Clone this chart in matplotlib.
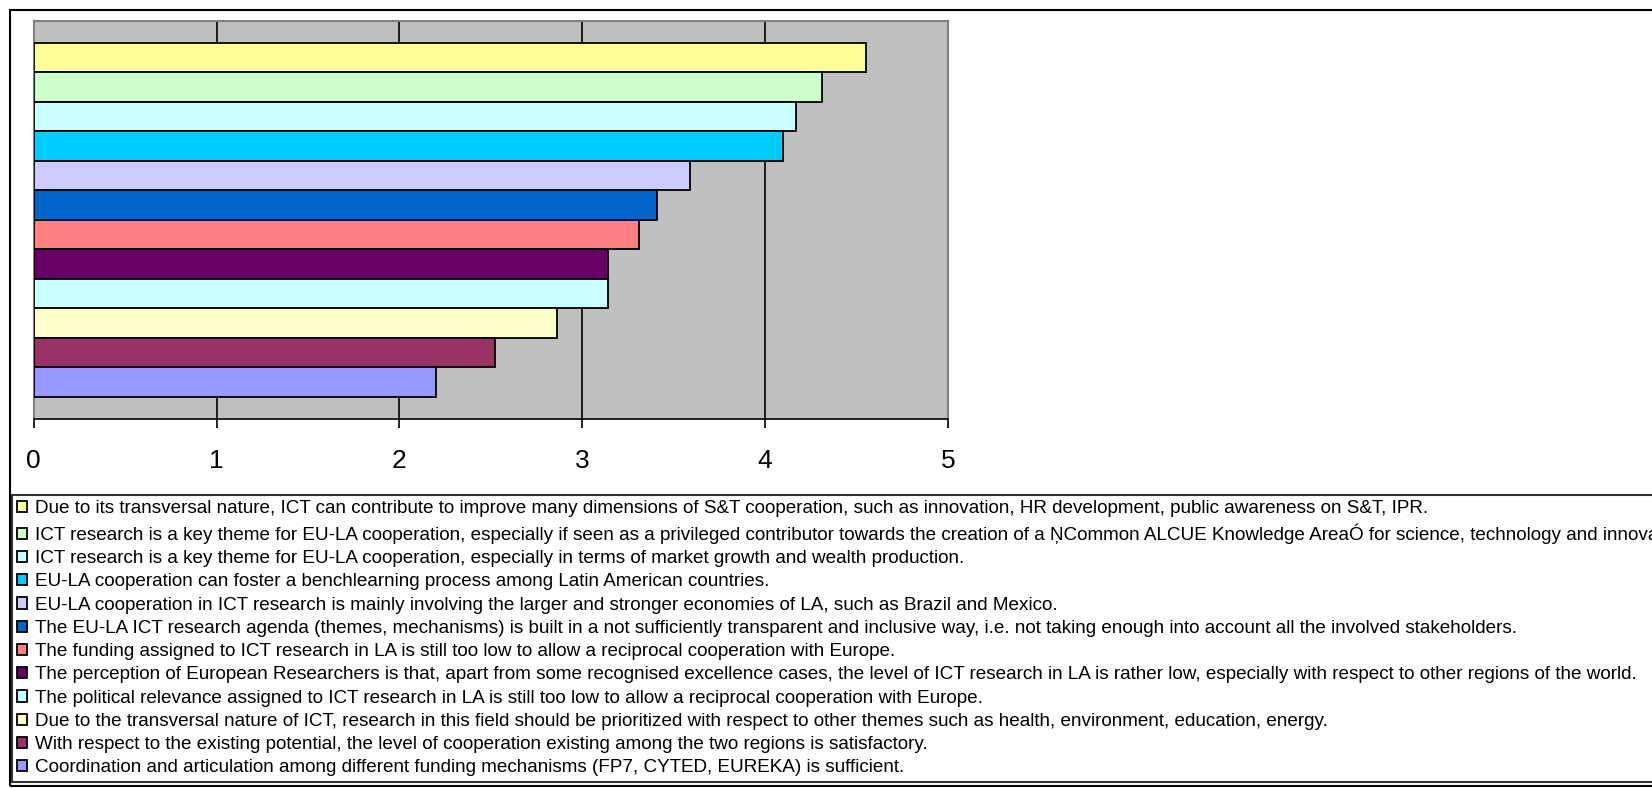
import matplotlib
matplotlib.use("Agg")
import matplotlib.pyplot as plt
from matplotlib.patches import Rectangle

plt.rcParams['font.family'] = ['Liberation Sans', 'DejaVu Sans']

statements = [
    "Due to its transversal nature, ICT can contribute to improve many dimensions of S&T cooperation, such as innovation, HR development, public awareness on S&T, IPR.",
    "ICT research is a key theme for EU-LA cooperation, especially if seen as a privileged contributor towards the creation of a \u0145Common ALCUE Knowledge Area\u00d3 for science, technology and innovation.",
    "ICT research is a key theme for EU-LA cooperation, especially in terms of market growth and wealth production.",
    "EU-LA cooperation can foster a benchlearning process among Latin American countries.",
    "EU-LA cooperation in ICT research is mainly involving the larger and stronger economies of LA, such as Brazil and Mexico.",
    "The EU-LA ICT research agenda (themes, mechanisms) is built in a not sufficiently transparent and inclusive way, i.e. not taking enough into account all the involved stakeholders.",
    "The funding assigned to ICT research in LA is still too low to allow a reciprocal cooperation with Europe.",
    "The perception of European Researchers is that, apart from some recognised excellence cases, the level of ICT research in LA is rather low, especially with respect to other regions of the world.",
    "The political relevance assigned to ICT research in LA is still too low to allow a reciprocal cooperation with Europe.",
    "Due to the transversal nature of ICT, research in this field should be prioritized with respect to other themes such as health, environment, education, energy.",
    "With respect to the existing potential, the level of cooperation existing among the two regions is satisfactory.",
    "Coordination and articulation among different funding mechanisms (FP7, CYTED, EUREKA) is sufficient.",
]
scores = [4.55, 4.31, 4.17, 4.10, 3.59, 3.41, 3.31, 3.14, 3.14, 2.86, 2.52, 2.20]
colors = ["#FFFF99", "#CCFFCC", "#CCFFFF", "#00CCFF", "#CCCCFF", "#0066CC",
          "#FF8080", "#660066", "#CCFFFF", "#FFFFCC", "#993366", "#9999FF"]
xticks = [0, 1, 2, 3, 4, 5]

W, H = 1652, 788
fig = plt.figure(figsize=(W / 100, H / 100), dpi=100)
ax = fig.add_axes([33.7 / W, 1 - 419 / H, (948 - 33.7) / W, (419 - 20.5) / H])
ax.set_facecolor("#C0C0C0")

handles = []
for i, (s, c, lab) in enumerate(zip(scores, colors, statements)):
    b = ax.barh(i, s, height=1.0, color=c, edgecolor="black", linewidth=1.3,
                label=lab, zorder=3)
    handles.append(b)

for x in xticks[1:-1]:
    ax.axvline(x, color="black", linewidth=1.2, zorder=1)

ax.set_xlim(0, 5)
ax.set_ylim(12.25, -1.25)
ax.set_yticks([])
ax.set_xticks(xticks)
ax.tick_params(axis="x", direction="out", length=6.5, width=1.2, pad=15,
               labelsize=19, color="black")
for side in ["top", "left", "right"]:
    ax.spines[side].set_color("#808080")
    ax.spines[side].set_linewidth(1.5)
ax.spines["bottom"].set_color("black")
ax.spines["bottom"].set_linewidth(1.2)

# legend runs past the right edge, like the original
leg = fig.legend(handles=handles, labels=statements, loc="upper left",
                 bbox_to_anchor=(12 / W, 1 - 495 / H), fontsize=13.6,
                 frameon=True, fancybox=False, edgecolor="black",
                 borderpad=0.28, borderaxespad=0, handlelength=0.53,
                 handleheight=0.53, handletextpad=0.42, labelspacing=0.33)
leg.get_frame().set_linewidth(1.5)

fig.patches.append(Rectangle((10 / W, 1 - 786 / H), 2.0, (786 - 10) / H,
                             transform=fig.transFigure, fill=False,
                             edgecolor="black", linewidth=1.5, clip_on=False))

fig.savefig("out.png", dpi=100)
